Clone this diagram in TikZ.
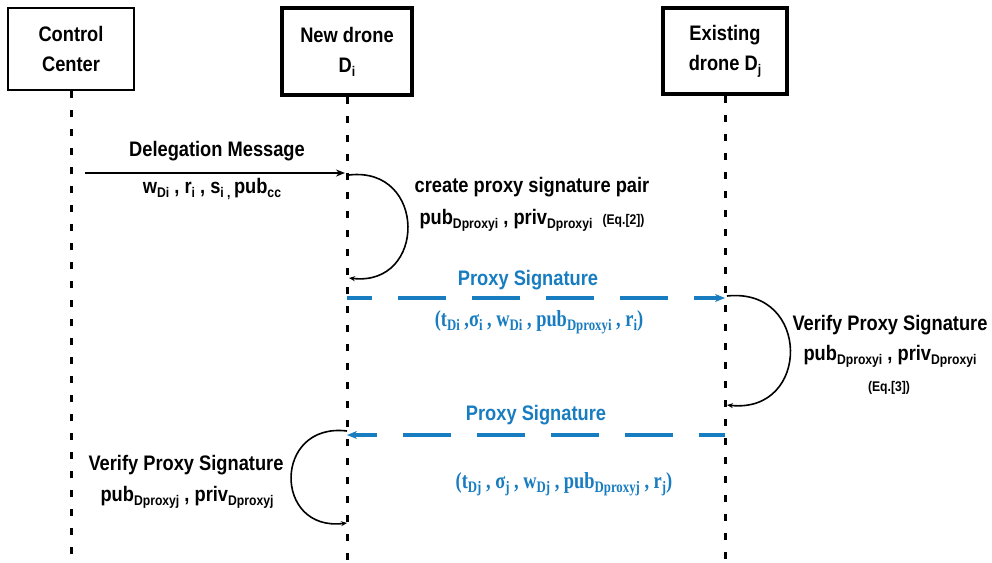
\documentclass[tikz,border=0pt]{standalone}
\usepackage{fontspec}
\setmainfont[FakeStretch=0.87]{Liberation Sans}
\newfontfamily\tupfont[FakeStretch=0.8]{Liberation Serif}
\usetikzlibrary{arrows.meta}
\definecolor{sigblue}{RGB}{24,124,192}
\newcommand\sbs[1]{\raisebox{-4pt}{\fontsize{14}{14}\selectfont #1}}
\newcommand\tsb[1]{\raisebox{-4pt}{\fontsize{16}{16}\selectfont #1}}
\tikzset{
  lifebox/.style={draw, rectangle, inner sep=0pt, align=center,
    font=\fontsize{21}{30}\selectfont\bfseries},
  lifeline/.style={line width=3pt, dash pattern=on 7pt off 12pt},
  msg/.style={line width=2.6pt, -{Stealth[length=9pt,width=7pt]}},
  sigmsg/.style={sigblue, line width=3.4pt, dash pattern=on 48pt off 26pt,
    -{Stealth[length=10pt,width=8pt]}},
  selfloop/.style={line width=1.6pt, -{Stealth[length=6pt,width=5pt]}},
  lbl/.style={inner sep=0pt, font=\fontsize{21}{30}\selectfont\bfseries},
  bluelbl/.style={lbl, text=sigblue},
  tuple/.style={inner sep=0pt, text=sigblue, font=\fontsize{23}{26}\tupfont\bfseries},
  eqlbl/.style={inner sep=0pt, font=\fontsize{14}{16}\selectfont\bfseries}
}
\begin{document}
\begin{tikzpicture}[x=1pt,y=-1pt]
\useasboundingbox (0,0) rectangle (992,562);

% participants
\node[lifebox, line width=2pt, minimum width=126pt, minimum height=82pt] (cc) at (71,49) {Control\\Center};
\node[lifebox, line width=3.5pt, minimum width=130pt, minimum height=87pt] (di) at (347,51.5) {New drone\\D\sbs{i}};
\node[lifebox, line width=3.5pt, minimum width=124pt, minimum height=86pt] (dj) at (725,51) {Existing\\drone D\sbs{j}};

% lifeline ends
\coordinate (ccend) at (71,562);
\coordinate (diend) at (347,562);
\coordinate (djend) at (725,562);
\draw[lifeline] (cc.south) -- (ccend);
\draw[lifeline] (di.south) -- (diend);
\draw[lifeline] (dj.south) -- (djend);

% points on the lifelines
\coordinate (dstart) at (85,173);
\coordinate (dend) at (345,173);
\coordinate (la) at (349,175);
\coordinate (lb) at (349,278);
\coordinate (sa) at (347,298);
\coordinate (sb) at (725,298);
\coordinate (ra) at (727,296);
\coordinate (rb) at (727,405);
\coordinate (ta) at (725,435);
\coordinate (tb) at (347,435);
\coordinate (ka) at (347,431);
\coordinate (kb) at (347,523);

% delegation message
\draw[msg] (dstart) -- (dend);
\node[lbl] (dlg) at (217,151) {Delegation Message};
\node[lbl] (dlgp) at (212,189) {w\sbs{Di} , r\sbs{i} , s\sbs{i , }pub\sbs{cc}};

% proxy key pair creation
\draw[selfloop] (la) .. controls (427,166) and (427,287) .. (lb);
\node[lbl] (cp) at (532,187) {create proxy signature pair};
\node[lbl] (cpk) at (532,220) {pub\sbs{Dproxyi} , priv\sbs{Dproxyi} \ {\fontsize{14}{14}\selectfont (Eq.[2])}};

% proxy signature from D_i to D_j
\draw[sigmsg, dash phase=23pt] (sa) -- (sb);
\node[bluelbl] (ps1) at (528,280) {Proxy Signature};
\node[tuple] (tp1) at (539,322) {(t\tsb{Di} ,σ\tsb{i} , w\tsb{Di} , pub\tsb{Dproxyi} , r\tsb{i})};

% verification at D_j
\draw[selfloop] (ra) .. controls (811,287) and (811,414) .. (rb);
\node[lbl] (vr) at (890,325) {Verify Proxy Signature};
\node[lbl] (vrk) at (890,356) {pub\sbs{Dproxyi} , priv\sbs{Dproxyi}};
\node[eqlbl] (eq3) at (889,388) {(Eq.[3])};

% proxy signature from D_j to D_i
\draw[sigmsg, dash phase=22pt] (ta) -- (tb);
\node[bluelbl] (ps2) at (536,415) {Proxy Signature};
\node[tuple] (tp2) at (564,484) {(t\tsb{Dj} , σ\tsb{j} , w\tsb{Dj} , pub\tsb{Dproxyj} , r\tsb{j})};

% verification at D_i
\draw[selfloop] (ka) .. controls (273,422) and (273,532) .. (kb);
\node[lbl] (vl) at (186,465) {Verify Proxy Signature};
\node[lbl] (vlk) at (187,497) {pub\sbs{Dproxyj} , priv\sbs{Dproxyj}};
\end{tikzpicture}
\end{document}
